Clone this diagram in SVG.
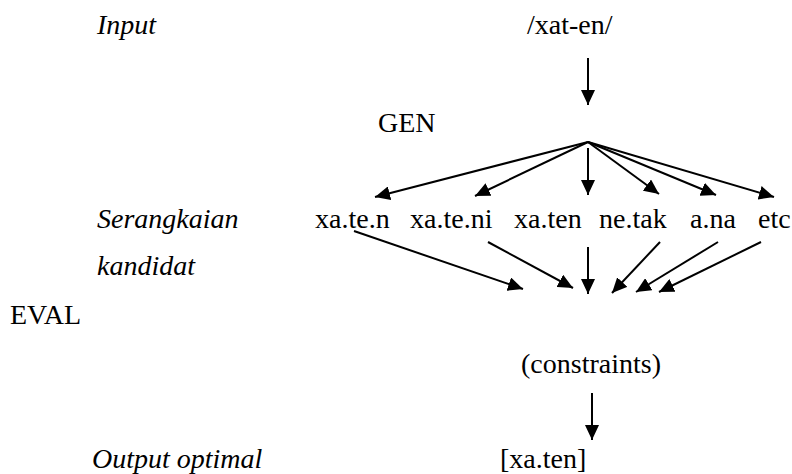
<svg xmlns="http://www.w3.org/2000/svg" width="792" height="474" viewBox="0 0 792 474">
  <style>
    text { font-family: "Liberation Serif", "Times New Roman", serif; font-size: 28px; fill: #000; }
    .it { font-style: italic; }
    .conn line { stroke: #000; stroke-width: 2; fill: none; marker-end: url(#head); }
  </style>
  <defs>
    <marker id="head" markerUnits="userSpaceOnUse" markerWidth="16" markerHeight="14" refX="15" refY="7" orient="auto">
      <path d="M0,0 L15,7 L0,14 Z" fill="#000"/>
    </marker>
  </defs>

  <!-- row labels -->
  <g id="label-input"><text class="it" x="97" y="34">Input</text></g>
  <g id="label-gen"><text x="378" y="132">GEN</text></g>
  <g id="label-candidates">
    <text class="it" x="97" y="228">Serangkaian</text>
    <text class="it" x="97" y="275">kandidat</text>
  </g>
  <g id="label-eval"><text x="10" y="324">EVAL</text></g>
  <g id="label-output"><text class="it" x="92" y="468">Output optimal</text></g>

  <!-- nodes -->
  <g id="node-input"><text x="527" y="34">/xat-en/</text></g>
  <g id="cand-1"><text x="315" y="228">xa.te.n</text></g>
  <g id="cand-2"><text x="410" y="228">xa.te.ni</text></g>
  <g id="cand-3"><text x="514" y="228">xa.ten</text></g>
  <g id="cand-4"><text x="599" y="228">ne.tak</text></g>
  <g id="cand-5"><text x="690" y="228">a.na</text></g>
  <g id="cand-6"><text x="758" y="228">etc</text></g>
  <g id="node-constraints"><text x="521" y="373">(constraints)</text></g>
  <g id="node-output"><text x="500" y="468">[xa.ten]</text></g>

  <!-- connectors -->
  <g id="connectors" class="conn">
    <line x1="588" y1="58" x2="588" y2="105"/>
    <!-- GEN fan-out -->
    <line x1="588" y1="142" x2="375" y2="197"/>
    <line x1="588" y1="142" x2="475" y2="196"/>
    <line x1="588" y1="148" x2="588" y2="195"/>
    <line x1="588" y1="142" x2="659" y2="194"/>
    <line x1="588" y1="142" x2="716" y2="195"/>
    <line x1="588" y1="142" x2="774" y2="197"/>
    <!-- candidates into EVAL -->
    <line x1="354" y1="231" x2="523" y2="289"/>
    <line x1="488" y1="242" x2="573" y2="288"/>
    <line x1="588" y1="247" x2="588" y2="294"/>
    <line x1="660" y1="242" x2="612" y2="293"/>
    <line x1="718" y1="242" x2="636" y2="292"/>
    <line x1="761" y1="242" x2="659" y2="292"/>
    <!-- constraints to output -->
    <line x1="592" y1="393" x2="592" y2="440"/>
  </g>
</svg>
